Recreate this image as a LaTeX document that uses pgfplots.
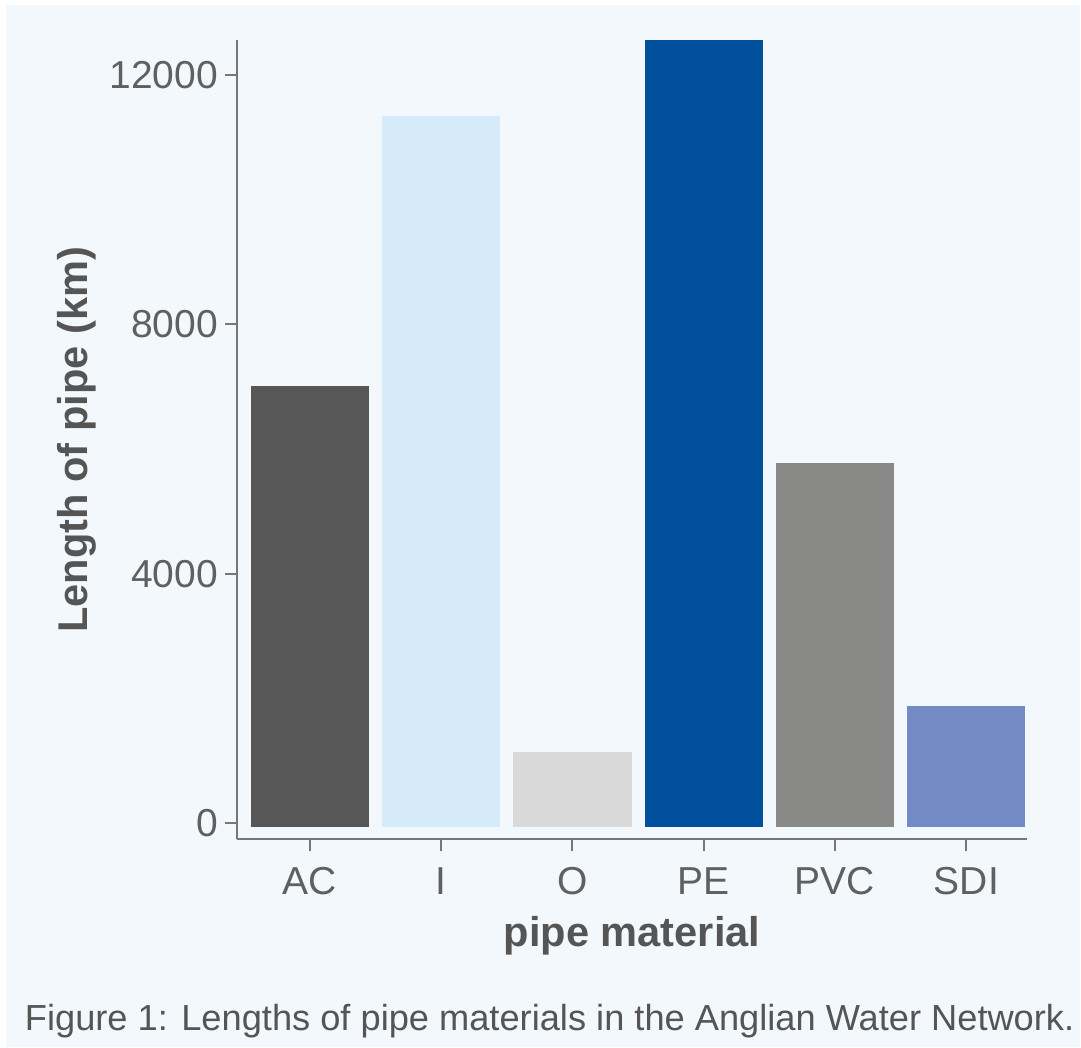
\documentclass[border=0pt]{standalone}
\usepackage{pgfplots}
\pgfplotsset{compat=1.18}
\usepackage{fontspec}
\setmainfont{Liberation Sans}
\definecolor{bg}{HTML}{F3F8FC}
\definecolor{axisgray}{HTML}{777777}
\definecolor{ticktext}{HTML}{606060}
\definecolor{labeltext}{HTML}{555555}
\definecolor{cAC}{HTML}{575757}
\definecolor{cI}{HTML}{D6EBFA}
\definecolor{cO}{HTML}{D9D9D9}
\definecolor{cPE}{HTML}{00509E}
\definecolor{cPVC}{HTML}{898988}
\definecolor{cSDI}{HTML}{738BC5}
\begin{document}
\begin{tikzpicture}
\fill[white] (0,0) rectangle (540.5pt,524pt);
\fill[bg] (3pt,0) rectangle (540.5pt,521.5pt);
\begin{axis}[
  at={(118.5pt,104pt)}, anchor=south west,
  scale only axis, width=395.5pt, height=400pt,
  xmin=-0.5556, xmax=5.464, ymin=-265, ymax=12567,
  axis x line*=bottom, axis y line*=left,
  axis line style={draw=axisgray, line width=1pt},
  tick style={draw=axisgray, line width=1pt},
  tick align=outside, major tick length=6pt,
  xtick={0,1,2,3,4,5}, xticklabels={AC,I,O,PE,PVC,SDI},
  xticklabel style={yshift=-4.5pt},
  ytick={0,4000,8000,12000},
  scaled y ticks=false,
  /pgf/number format/1000 sep={},
  /pgf/number format/assume math mode=true,
  ticklabel style={font=\fontsize{19.5}{22}\selectfont, text=ticktext},
  xlabel={pipe material}, ylabel={Length of pipe (km)},
  label style={font=\fontsize{20.8}{24}\selectfont\bfseries, text=labeltext},
  xlabel style={at={(axis description cs:0.5,-0.121)}, anchor=center},
  ylabel style={at={(axis description cs:-0.2023,0.5)}, anchor=center, rotate=0},
  clip=false,
]
% bars: (centre +/- 0.45), from the plotted base to the value
\addplot[fill=cAC, draw=none] coordinates {(-0.45,-72) (-0.45,7018) (0.45,7018) (0.45,-72)} -- cycle;
\addplot[fill=cI, draw=none] coordinates {(0.55,-72) (0.55,11348) (1.45,11348) (1.45,-72)} -- cycle;
\addplot[fill=cO, draw=none] coordinates {(1.55,-72) (1.55,1131) (2.45,1131) (2.45,-72)} -- cycle;
\addplot[fill=cPE, draw=none] coordinates {(2.55,-72) (2.55,12567) (3.45,12567) (3.45,-72)} -- cycle;
\addplot[fill=cPVC, draw=none] coordinates {(3.55,-72) (3.55,5782) (4.45,5782) (4.45,-72)} -- cycle;
\addplot[fill=cSDI, draw=none] coordinates {(4.55,-72) (4.55,1869) (5.45,1869) (5.45,-72)} -- cycle;
\end{axis}
\node[text=labeltext, anchor=center] at (275pt,13pt) {\resizebox{525pt}{!}{Figure 1: Lengths of pipe materials in the Anglian Water Network.}};
\end{tikzpicture}
\end{document}
